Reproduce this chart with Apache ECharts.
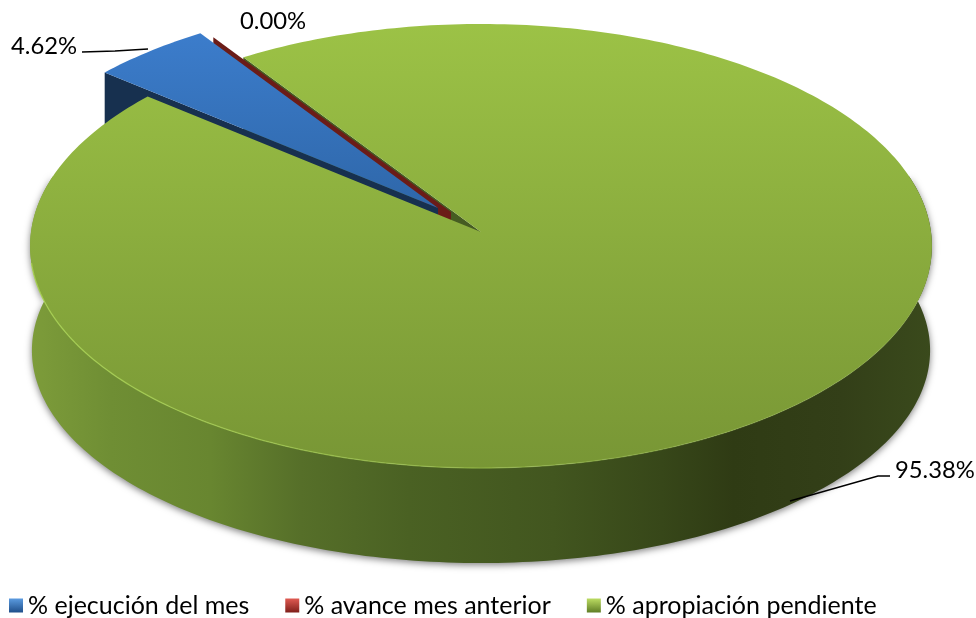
<!DOCTYPE html>
<html>
<head>
<meta charset="utf-8">
<style>html,body{margin:0;padding:0;background:#fff}#c{width:976px;height:618px}</style>
<script src="https://cdn.jsdelivr.net/npm/echarts@6/dist/echarts.min.js"></script>
</head>
<body>
<div id="c"></div>
<script>
const categories = ['% ejecución del mes', '% avance mes anterior', '% apropiación pendiente'];
const values = [4.62, 0.00, 95.38];
const labelTexts = ['4.62%', '0.00%', '95.38%'];

// pie layout: a projected circle, so that slices are foreshortened as in the picture
const CX = 481, CY = 232, R = 450, K = 0.0631, P = -206.5, DEPTH = 89;
const LOW_CY = 337, LOW_P = -190.5;
const START = -50.4;
const FONT = 'Lato, "Open Sans", sans-serif';

function pt(deg, dx, dy, low) {
  const a = deg * Math.PI / 180, u = Math.sin(a), v = Math.cos(a), w = 1 + K * v;
  let x = R * u / w, y = (CY + P * v) / w;
  if (low) { x *= 0.996; y = (LOW_CY + LOW_P * v) / w; }
  return [CX + x + (dx || 0), y + (dy || 0)];
}
function arc(a0, a1, dx, dy, low) {
  const out = [], n = Math.max(2, Math.ceil(Math.abs(a1 - a0)));
  for (let i = 0; i <= n; i++) out.push(pt(a0 + (a1 - a0) * i / n, dx, dy, low));
  return out;
}
function spans() {
  const total = values.reduce((s, v) => s + v, 0);
  let a = START;
  return values.map(v => { const s = [a, a + v / total * 360]; a = s[1]; return s; });
}
const vgrad = (y0, y1, c0, c1) => new echarts.graphic.LinearGradient(0, y0, 0, y1, [{offset:0,color:c0},{offset:1,color:c1}], true);
const poly = (points, style, z2) => ({type:'polygon', shape:{points}, style, z2, silent:true});
const label = (text, x, y) => ({type:'text', z2:8, style:{text, x, y, font:'23.8px ' + FONT, fill:'#000', textAlign:'left', textVerticalAlign:'middle'}});
const leader = (points) => ({type:'polyline', z2:8, shape:{points}, style:{stroke:'#000', lineWidth:1.4, fill:'none'}});

function drawBlue(params, api) {
  const [a0, a1] = spans()[0], dx = -43, dy = -24;
  const o0 = pt(a0, dx, dy), apex = [CX + dx, CY + dy];
  return {type:'group', children:[
    poly([o0, apex, [apex[0], apex[1] + DEPTH], [o0[0], o0[1] + DEPTH]], {fill:'#17304f'}, 2),
    poly([apex].concat(arc(a0, a1, dx, dy)), {fill:vgrad(30, 215, '#3c7dcc', '#2e66a8')}, 3),
    label(labelTexts[0], 11, 46),
    leader([[82, 52], [115, 51], [148, 49]])
  ]};
}
function drawRed(params, api) {
  const a = spans()[1][0], dx = -30, dy = -20;
  const o = pt(a, dx, dy), apex = [CX + dx, CY + dy];
  return {type:'group', children:[
    poly([o, apex, [apex[0], apex[1] + 12], [o[0], o[1] + 12]], {fill:'#6b1c18'}, 1),
    label(labelTexts[1], 240, 21)
  ]};
}
function drawGreen(params, api) {
  const [a0, a1] = spans()[2];
  const apex = [CX, CY], o = pt(a0);
  const wallTop = arc(75, 285), wallLow = arc(285, 75, 0, 0, true);
  const wallFill = new echarts.graphic.LinearGradient(30, 0, 932, 0, [
    {offset:0, color:'#7d9c3a'}, {offset:0.09, color:'#6f8e34'}, {offset:0.2, color:'#688630'},
    {offset:0.3, color:'#566f29'}, {offset:0.42, color:'#4a6123'}, {offset:0.58, color:'#42561f'},
    {offset:0.7, color:'#374719'}, {offset:0.78, color:'#2f3b14'}, {offset:0.9, color:'#333f18'},
    {offset:1, color:'#3a4a1c'}], true);
  const rim = new echarts.graphic.LinearGradient(30, 0, 932, 0, [
    {offset:0, color:'rgba(170,212,84,0.85)'}, {offset:0.5, color:'rgba(162,201,79,0.55)'}, {offset:1, color:'rgba(162,201,79,0.1)'}], true);
  return {type:'group', children:[
    poly([o, apex, [CX, CY + DEPTH], [o[0], o[1] + DEPTH]], {fill:'#465c22'}, 0),
    poly(wallTop.concat(wallLow), {fill:wallFill, shadowBlur:7, shadowColor:'rgba(0,0,0,0.5)', shadowOffsetY:2}, 4),
    poly([apex].concat(arc(a0, a1)), {fill:vgrad(24, 468, '#9cc246', '#789635')}, 5),
    {type:'polyline', z2:6, shape:{points:arc(100, 262)}, style:{stroke:rim, lineWidth:1.3, fill:'none'}},
    label(labelTexts[2], 895, 470),
    leader([[790, 501], [878, 476], [890, 476]])
  ]};
}

const renderers = [drawBlue, drawRed, drawGreen];
const legendColors = [['#5b9be0', '#1f4f8a'], ['#e05a52', '#7f1f1a'], ['#bcdc62', '#5f7d25']];

const chart = echarts.init(document.getElementById('c'), null, {renderer:'canvas'});
chart.setOption({
  animation:false,
  backgroundColor:'#fff',
  legend:{
    left:9, top:593, padding:0, itemWidth:14, itemHeight:14, itemGap:36, icon:'rect',
    selectedMode:false,
    textStyle:{fontFamily:FONT, fontSize:25, color:'#000'},
    data:categories.map((name, i) => ({name, itemStyle:{
      color:new echarts.graphic.LinearGradient(0,0,0,1,[{offset:0,color:legendColors[i][0]},{offset:1,color:legendColors[i][1]}])
    }}))
  },
  series:categories.map((name, i) => ({
    type:'custom', name, coordinateSystem:'none', renderItem:renderers[i],
    itemStyle:{color:legendColors[i][1]}, data:[values[i]], silent:true
  }))
});
</script>
</body>
</html>
